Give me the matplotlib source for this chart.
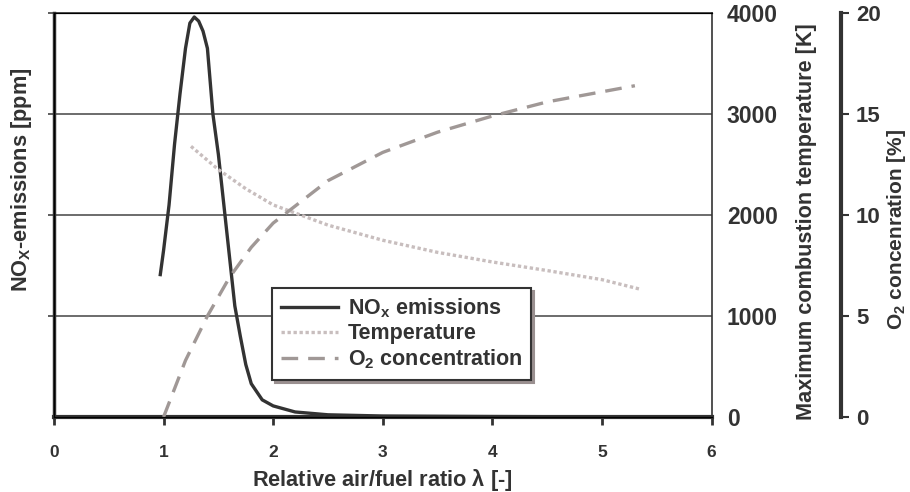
import numpy as np
import matplotlib.pyplot as plt

plt.rcParams['font.family'] = ['Liberation Sans', 'DejaVu Sans']
plt.rcParams['font.weight'] = 'bold'
plt.rcParams['axes.labelweight'] = 'bold'
plt.rcParams['mathtext.fontset'] = 'custom'
plt.rcParams['mathtext.rm'] = 'Liberation Sans:bold'
plt.rcParams['mathtext.bf'] = 'Liberation Sans:bold'

# NOx emissions vs lambda (same vertical scale as temperature axis)
nox_x = [0.97, 1.0, 1.05, 1.1, 1.15, 1.2, 1.24, 1.28, 1.32, 1.36, 1.4, 1.45, 1.5, 1.55,
         1.6, 1.65, 1.7, 1.75, 1.8, 1.9, 2.0, 2.2, 2.5, 3.0, 4.0, 5.5]
nox_y = [1410, 1650, 2100, 2700, 3200, 3650, 3900, 3960, 3920, 3820, 3650, 3000, 2600, 2100,
         1600, 1100, 800, 520, 330, 170, 110, 50, 22, 10, 5, 0]

# maximum combustion temperature [K]
temp_x = [1.25, 1.5, 1.75, 2.0, 2.5, 3.0, 3.5, 4.0, 4.5, 5.0, 5.35]
temp_y = [2680, 2450, 2260, 2100, 1900, 1750, 1630, 1535, 1450, 1360, 1265]

# O2 concentration [%]
o2_x = [1.0, 1.2, 1.4, 1.6, 1.8, 2.0, 2.5, 3.0, 3.5, 4.0, 4.5, 5.0, 5.3]
o2_y = [0.0, 2.8, 5.0, 6.9, 8.4, 9.6, 11.7, 13.1, 14.1, 14.9, 15.6, 16.1, 16.4]

txt = '#333333'
fig = plt.figure(figsize=(9.1, 4.92), dpi=100)
ax = fig.add_axes([0.0593, 0.1524, 0.7227, 0.8212])
ax.set_xlim(0, 6)
ax.set_ylim(0, 4000)
ax.set_xticks(range(0, 7))
ax.set_yticks([1000, 2000, 3000, 4000])
ax.set_yticklabels([])
for y in [1000, 2000, 3000]:
    ax.axhline(y, color='#444444', lw=1.1, zorder=1)
ax.tick_params(axis='x', direction='out', length=6, width=2, colors=txt, labelsize=12.5, pad=14)
ax.tick_params(axis='y', direction='out', length=4, width=1.1, colors=txt)
ax.spines['left'].set_linewidth(2.5)
ax.spines['bottom'].set_linewidth(3)
ax.spines['top'].set_linewidth(1.2)
ax.spines['right'].set_linewidth(1.2)
for s in ax.spines.values():
    s.set_color('#333333')
ax.set_xlabel(r'Relative air/fuel ratio $\mathbf{\lambda}$ [-]', fontsize=15.7, color=txt)
ax.xaxis.set_label_coords(0.5, -0.156)
ax.xaxis.label.set_va('center')
ax.set_ylabel(r'NO$_\mathbf{X}$-emissions [ppm]', fontsize=15.7, color=txt)
ax.yaxis.set_label_coords(-0.049, 0.587)
ax.yaxis.label.set_va('center')

ln1, = ax.plot(nox_x, nox_y, color='#333333', lw=2.4, zorder=5, label=r'NO$_\mathbf{x}$ emissions',
               solid_joinstyle='round')

ax2 = ax.twinx()
ax2.set_ylim(0, 4000)
ax2.set_yticks([0, 1000, 2000, 3000, 4000])
ax2.tick_params(axis='y', length=0, pad=11, labelsize=16.5, colors=txt)
ax2.spines['right'].set_visible(False)
ax2.set_ylabel('Maximum combustion temperature [K]', fontsize=15.6, color=txt)
ax2.yaxis.set_label_coords(1.144, 0.483)
ax2.yaxis.label.set_va('center')
ln2, = ax2.plot(temp_x, temp_y, color='#c8bebe', lw=2.4, linestyle=(0, (1, 0.8)), label='Temperature')

ax3 = ax.twinx()
ax3.set_ylim(0, 20)
ax3.set_yticks([0, 5, 10, 15, 20])
ax3.spines['right'].set_position(('outward', 93))
ax3.spines['right'].set_linewidth(3)
ax3.spines['right'].set_color('#333333')
ax3.tick_params(axis='y', direction='out', length=6, width=1.5, pad=5, labelsize=16, colors=txt)
ax3.set_ylabel(r'O$_\mathbf{2}$ concenration [%]', fontsize=15, color=txt)
ax3.yaxis.set_label_coords(1.281, 0.465)
ax3.yaxis.label.set_va('center')
ln3, = ax3.plot(o2_x, o2_y, color='#a09896', lw=2.4, linestyle=(0, (5, 3)), label=r'O$_\mathbf{2}$ concentration')

leg = ax3.legend(handles=[ln1, ln2, ln3], loc='lower left', bbox_to_anchor=(0.332, 0.092),
                 borderaxespad=0, fontsize=15.5, handlelength=2.65, handletextpad=0.47,
                 labelspacing=0.15, borderpad=0.4, fancybox=False, framealpha=1,
                 shadow={'color': '#9a9090', 'alpha': 1})
leg.get_frame().set_edgecolor('#333333')
leg.get_frame().set_linewidth(1.5)
for t in leg.get_texts():
    t.set_color(txt)

fig.savefig('out.png', dpi=100)
